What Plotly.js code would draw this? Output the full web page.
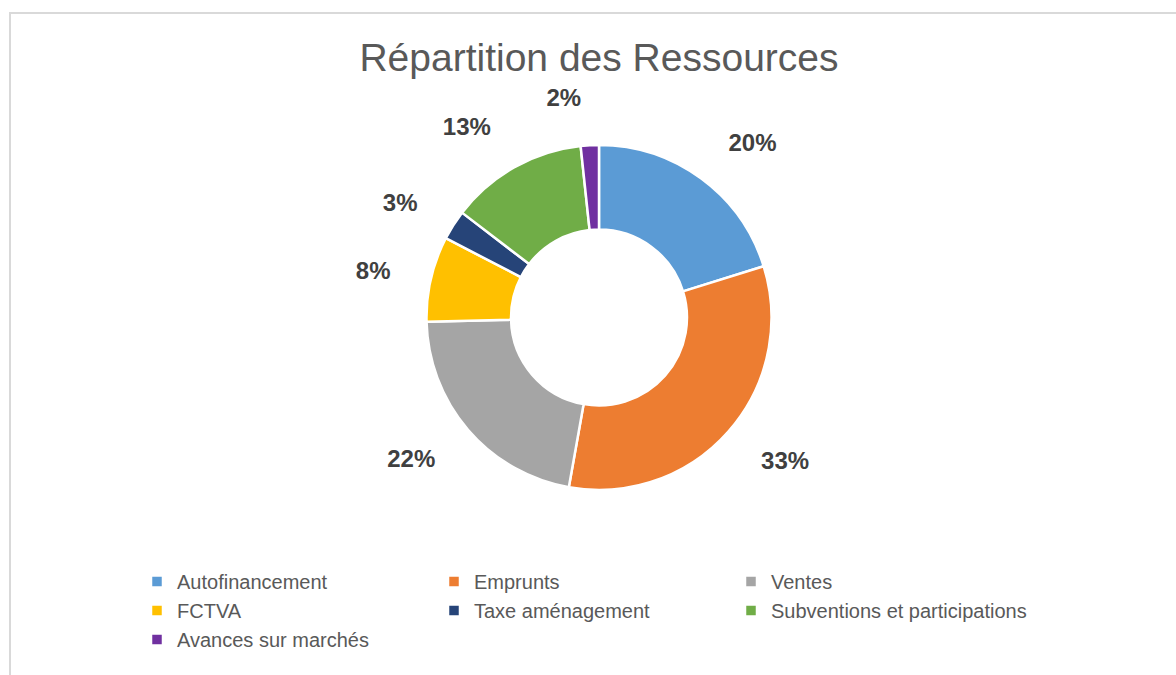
<!DOCTYPE html>
<html>
<head>
<meta charset="utf-8">
<script src="https://cdn.plot.ly/plotly-3.0.1.min.js"></script>
<style>
  html, body { margin: 0; padding: 0; background: #ffffff; overflow: hidden; }
  #chart { position: absolute; left: 0; top: 0; width: 1176px; height: 675px; }
  #frame { position: absolute; left: 9px; top: 12px; width: 1300px; height: 800px;
           border: 2px solid #d9d9d9; box-sizing: border-box; pointer-events: none; }
</style>
</head>
<body>
<div id="chart"></div>
<div id="frame"></div>
<script>
const categories = ["Autofinancement", "Emprunts", "Ventes", "FCTVA", "Taxe aménagement", "Subventions et participations", "Avances sur marchés"];
const shares = [20.2, 32.6, 21.8, 8.0, 2.8, 12.9, 1.7];
const sliceColors = ["#5B9BD5", "#ED7D31", "#A5A5A5", "#FFC000", "#264478", "#70AD47", "#7030A0"];
const chartTitle = "Répartition des Ressources";

const W = 1176, H = 675;
const cx = 599, cy = 317.5, R = 172.5, RL = 207;
const fontFam = "Liberation Sans, Arial, sans-serif";

function domainFor(r) {
  return {
    x: [(cx - r) / W, (cx + r) / W],
    y: [1 - (cy + r) / H, 1 - (cy - r) / H]
  };
}

// visible donut
const donut = {
  type: "pie",
  labels: categories,
  values: shares,
  sort: false,
  direction: "clockwise",
  rotation: 0,
  hole: 0.51,
  marker: { colors: sliceColors, line: { color: "#ffffff", width: 2.5 } },
  textinfo: "none",
  domain: domainFor(R),
  hoverinfo: "label+percent"
};

// transparent ring of the same data, only used to place the percentage labels a bit further out
const labelRing = {
  type: "pie",
  labels: categories,
  values: shares,
  sort: false,
  direction: "clockwise",
  rotation: 0,
  hole: 0.95,
  showlegend: false,
  marker: { colors: categories.map(() => "rgba(0,0,0,0)"), line: { width: 0 } },
  texttemplate: "%{percent:.0%}",
  textposition: "outside",
  textfont: { family: fontFam, size: 24, color: "#404040", weight: "bold" },
  domain: domainFor(RL),
  hoverinfo: "skip"
};

const layout = {
  width: W, height: H,
  margin: { l: 0, r: 0, t: 0, b: 0 },
  paper_bgcolor: "#ffffff",
  showlegend: true,
  title: {
    text: chartTitle,
    x: cx / W, xanchor: "center",
    y: 1 - 57 / H, yanchor: "middle",
    font: { family: fontFam, size: 39, color: "#595959" }
  },
  legend: {
    orientation: "h",
    x: 137 / W, xanchor: "left",
    y: 1 - 562 / H, yanchor: "top",
    entrywidth: 252, entrywidthmode: "pixels",
    font: { family: fontFam, size: 20, color: "#595959" },
    itemwidth: 30,
    traceorder: "normal"
  }
};

Plotly.newPlot("chart", [donut, labelRing], layout, { displayModeBar: false, staticPlot: true });
</script>
</body>
</html>
